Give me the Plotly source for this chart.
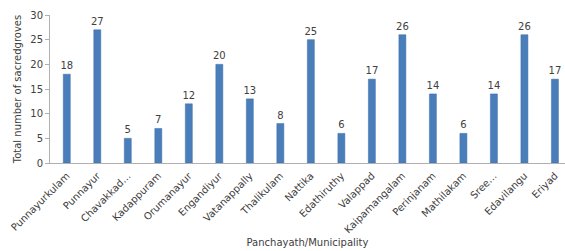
import plotly.graph_objects as go

categories = ["Punnayurkulam", "Punnayur", "Chavakkad…", "Kadappuram", "Orumanayur",
              "Engandiyur", "Vatanappally", "Thalikulam", "Nattika", "Edathiruthy",
              "Valappad", "Kaipamangalam", "Perinjanam", "Mathilakam", "Sree…",
              "Edavilangu", "Eriyad"]
values = [18, 27, 5, 7, 12, 20, 13, 8, 25, 6, 17, 26, 14, 6, 14, 26, 17]

fig = go.Figure(go.Bar(
    x=categories, y=values,
    marker=dict(color="#4a7ebb", line=dict(color="#3d6fa8", width=0.5)),
    text=values, textposition="outside",
    textfont=dict(size=10, color="#404040", family="DejaVu Sans"),
    cliponaxis=False,
))

fig.update_layout(
    width=565, height=251,
    margin=dict(l=50, r=0, t=15, b=88),
    paper_bgcolor="white", plot_bgcolor="white",
    bargap=0.77,
    showlegend=False,
    uniformtext=dict(minsize=10, mode="show"),
    font=dict(family="DejaVu Sans", color="#404040"),
)
fig.update_xaxes(
    range=[-0.55, 16.33],
    automargin=False,
    tickangle=-45,
    tickfont=dict(size=10, color="#404040"),
    showline=True, linecolor="#b0b0b0", linewidth=1,
    ticks="outside", ticklen=2, tickcolor="rgba(0,0,0,0)",
    showgrid=False,
    title=dict(text="Panchayath/Municipality", font=dict(size=10, color="#404040"), standoff=4),
)
fig.update_yaxes(
    range=[0, 30], dtick=5,
    automargin=False,
    tickfont=dict(size=10, color="#404040"),
    showline=True, linecolor="#b0b0b0", linewidth=1,
    ticks="outside", ticklen=4, tickcolor="#b0b0b0",
    showgrid=False, zeroline=False,
    title=dict(text="Total number of sacredgroves", font=dict(size=10, color="#404040"), standoff=6),
)

fig.write_html(
    "out.html",
    config={"displayModeBar": False},
    post_script="document.body.style.margin='0';document.body.style.overflow='hidden';",
)
